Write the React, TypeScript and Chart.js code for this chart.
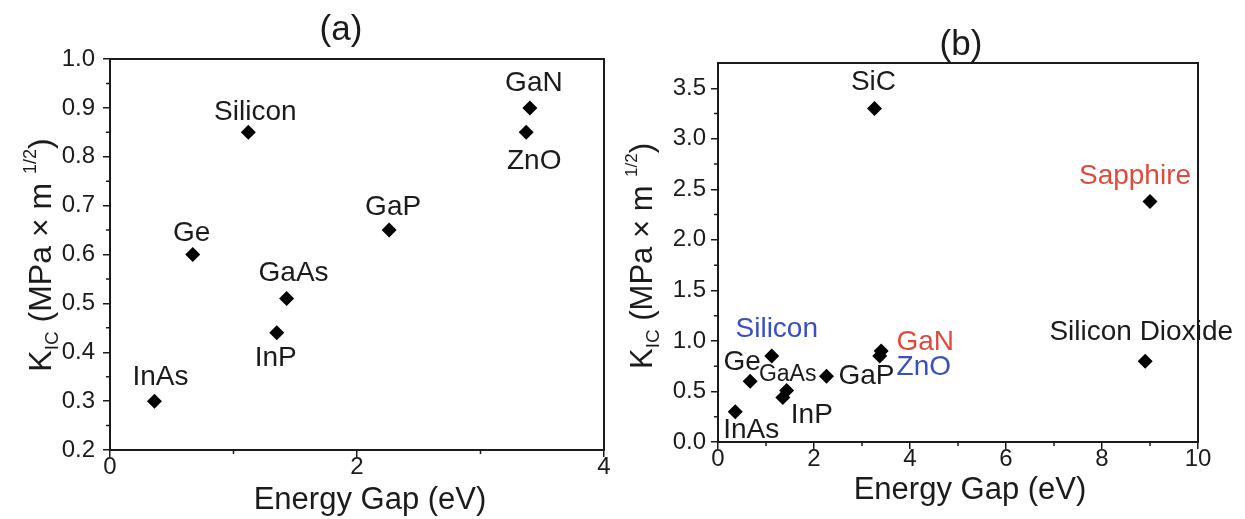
import { useEffect, useRef } from "react";
import { Chart, registerables } from "chart.js";

Chart.register(...registerables);

// ---- Panel (a): common semiconductors ----
const namesA = ["InAs", "Ge", "Silicon", "InP", "GaAs", "GaP", "ZnO", "GaN"];
const gapA = [0.36, 0.67, 1.12, 1.35, 1.43, 2.26, 3.37, 3.4];
const kicA = [0.3, 0.6, 0.85, 0.44, 0.51, 0.65, 0.85, 0.9];

const xTicksA = [0, 2, 4];
const xMinorA = [1, 3];
const yTicksA = [0.2, 0.3, 0.4, 0.5, 0.6, 0.7, 0.8, 0.9, 1.0];
const yMinorA = [0.25, 0.35, 0.45, 0.55, 0.65, 0.75, 0.85, 0.95];

// ---- Panel (b): semiconductors plus wide-gap materials ----
const namesB = ["InAs", "Ge", "Silicon", "InP", "GaAs", "GaP", "SiC", "ZnO", "GaN", "Sapphire", "Silicon Dioxide"];
const gapB = [0.36, 0.67, 1.12, 1.35, 1.43, 2.26, 3.26, 3.37, 3.4, 9.0, 8.9];
const kicB = [0.3, 0.6, 0.85, 0.44, 0.51, 0.65, 3.3, 0.85, 0.9, 2.38, 0.8];

const xTicksB = [0, 2, 4, 6, 8, 10];
const xMinorB = [1, 3, 5, 7, 9];
const yTicksB = [0, 0.5, 1.0, 1.5, 2.0, 2.5, 3.0, 3.5];
const yMinorB = [0.25, 0.75, 1.25, 1.75, 2.25, 2.75, 3.25];

const FAMILY = "'Liberation Sans', Arial, Helvetica, sans-serif";
const INK = "#1b1b1b";
const BLUE = "#3a4fbf";
const RED = "#df4a3c";

type Placement = { dx: number; dy: number; color: string; size: number; align?: CanvasTextAlign };

// where each material name sits relative to its marker
const placeA: Placement[] = [
  { dx: 6, dy: -24, color: INK, size: 28 },
  { dx: -1, dy: -21, color: INK, size: 28 },
  { dx: 7, dy: -20, color: INK, size: 28 },
  { dx: -1, dy: 26, color: INK, size: 28 },
  { dx: 7, dy: -25, color: INK, size: 28 },
  { dx: 4, dy: -23, color: INK, size: 28 },
  { dx: 8, dy: 29, color: INK, size: 28 },
  { dx: 4, dy: -25, color: INK, size: 28 },
];

const placeB: Placement[] = [
  { dx: 16, dy: 19, color: INK, size: 28 },
  { dx: -8, dy: -19, color: INK, size: 28 },
  { dx: 5, dy: -27, color: BLUE, size: 28 },
  { dx: 29, dy: 18, color: INK, size: 28 },
  { dx: 1, dy: -16, color: INK, size: 23 },
  { dx: 12, dy: 0, color: INK, size: 28, align: "left" },
  { dx: -1, dy: -26, color: INK, size: 28 },
  { dx: 44, dy: 11, color: BLUE, size: 28 },
  { dx: 44, dy: -9, color: RED, size: 28 },
  { dx: -15, dy: -25, color: RED, size: 28 },
  { dx: -4, dy: -29, color: INK, size: 28 },
];

interface PanelSpec {
  letter: string;
  names: string[];
  gap: number[];
  kic: number[];
  xRange: [number, number];
  yRange: [number, number];
  xTicks: number[];
  xMinor: number[];
  yTicks: number[];
  yMinor: number[];
  place: Placement[];
  width: number;
  left: number;
  area: { left: number; right: number; top: number; bottom: number };
  yLabelPad: number;
  letterPos: [number, number];
  xTitlePos: [number, number];
  yTitlePos: [number, number];
  yTitleSize: number;
}

const HEIGHT = 519;

function drawYTitle(ctx: CanvasRenderingContext2D, cx: number, cy: number, size: number) {
  const parts = [
    { t: "K", f: `${size}px ${FAMILY}`, dy: 0 },
    { t: "IC", f: `${Math.round(size * 0.6)}px ${FAMILY}`, dy: 7 },
    { t: " (MPa \u00d7 m ", f: `${size}px ${FAMILY}`, dy: 0 },
    { t: "1/2", f: `${Math.round(size * 0.56)}px ${FAMILY}`, dy: -15 },
    { t: ")", f: `${size}px ${FAMILY}`, dy: 0 },
  ];
  ctx.save();
  ctx.translate(cx, cy);
  ctx.rotate(-Math.PI / 2);
  ctx.fillStyle = INK;
  ctx.textBaseline = "alphabetic";
  ctx.textAlign = "left";
  let total = 0;
  const widths = parts.map((p) => {
    ctx.font = p.f;
    const w = ctx.measureText(p.t).width;
    total += w;
    return w;
  });
  let x = -total / 2;
  parts.forEach((p, i) => {
    ctx.font = p.f;
    ctx.fillText(p.t, x, p.dy);
    x += widths[i];
  });
  ctx.restore();
}

function makeDecor(spec: PanelSpec) {
  return {
    id: "panelDecor",
    afterDraw(chart: any) {
      const ctx: CanvasRenderingContext2D = chart.ctx;
      const { left, right, top, bottom } = chart.chartArea;
      const xs = chart.scales.x;
      const ys = chart.scales.y;
      ctx.save();
      // frame: top and right edges
      ctx.strokeStyle = INK;
      ctx.lineWidth = 2;
      ctx.beginPath();
      ctx.moveTo(left - 1, top);
      ctx.lineTo(right, top);
      ctx.lineTo(right, bottom + 1);
      ctx.stroke();
      // minor ticks
      ctx.lineWidth = 1.5;
      ctx.beginPath();
      spec.xMinor.forEach((v) => {
        const px = xs.getPixelForValue(v);
        ctx.moveTo(px, bottom);
        ctx.lineTo(px, bottom + 4);
      });
      spec.yMinor.forEach((v) => {
        const py = ys.getPixelForValue(v);
        ctx.moveTo(left, py);
        ctx.lineTo(left - 4, py);
      });
      ctx.stroke();

      // material names next to markers
      const meta = chart.getDatasetMeta(0);
      ctx.textBaseline = "middle";
      meta.data.forEach((pt: any, i: number) => {
        const p = spec.place[i];
        ctx.font = `${p.size}px ${FAMILY}`;
        ctx.fillStyle = p.color;
        ctx.textAlign = p.align || "center";
        ctx.fillText(spec.names[i], pt.x + p.dx, pt.y + p.dy);
      });

      // panel letter
      ctx.fillStyle = INK;
      ctx.textAlign = "center";
      ctx.textBaseline = "alphabetic";
      ctx.font = `35px ${FAMILY}`;
      ctx.fillText(spec.letter, spec.letterPos[0], spec.letterPos[1]);

      // axis titles
      ctx.font = `31px ${FAMILY}`;
      ctx.fillText("Energy Gap (eV)", spec.xTitlePos[0], spec.xTitlePos[1]);
      drawYTitle(ctx, spec.yTitlePos[0], spec.yTitlePos[1], spec.yTitleSize);
      ctx.restore();
    },
  };
}

function Panel({ spec }: { spec: PanelSpec }) {
  const ref = useRef<HTMLCanvasElement | null>(null);
  useEffect(() => {
    const canvas = ref.current;
    if (!canvas) return;
    const a = spec.area;
    const yDec = spec.yTicks.some((v) => !Number.isInteger(v)) ? 1 : 0;
    const chart = new Chart(canvas, {
      type: "scatter",
      data: {
        datasets: [
          {
            data: spec.gap.map((g, i) => ({ x: g, y: spec.kic[i] })),
            pointStyle: "rectRot",
            pointRadius: 7.5,
            pointBackgroundColor: "#000",
            pointBorderColor: "#000",
            pointBorderWidth: 0,
          },
        ],
      },
      options: {
        responsive: false,
        animation: false,
        events: [],
        layout: { padding: { left: 0, top: a.top, right: spec.width - a.right, bottom: 0 } },
        plugins: { legend: { display: false }, tooltip: { enabled: false }, title: { display: false } },
        scales: {
          x: {
            type: "linear",
            min: spec.xRange[0],
            max: spec.xRange[1],
            afterBuildTicks: (s: any) => {
              s.ticks = spec.xTicks.map((v) => ({ value: v }));
            },
            afterFit: (s: any) => {
              s.height = HEIGHT - a.bottom;
            },
            ticks: {
              color: INK,
              font: { family: FAMILY, size: 24 },
              padding: -4,
              maxRotation: 0,
              callback: (v: any) => String(v),
            },
            grid: { display: true, drawOnChartArea: false, drawTicks: true, tickLength: 7, color: INK, lineWidth: 1.5 },
            border: { display: true, color: INK, width: 2 },
            title: { display: false },
          },
          y: {
            type: "linear",
            min: spec.yRange[0],
            max: spec.yRange[1],
            afterBuildTicks: (s: any) => {
              s.ticks = spec.yTicks.map((v) => ({ value: v }));
            },
            afterFit: (s: any) => {
              s.width = a.left;
            },
            ticks: {
              color: INK,
              font: { family: FAMILY, size: 24 },
              padding: spec.yLabelPad,
              callback: (v: any) => Number(v).toFixed(yDec),
            },
            grid: { display: true, drawOnChartArea: false, drawTicks: true, tickLength: 7, color: INK, lineWidth: 1.5 },
            border: { display: true, color: INK, width: 2 },
            title: { display: false },
          },
        },
      },
      plugins: [makeDecor(spec)],
    } as any);
    return () => chart.destroy();
  }, [spec]);
  return (
    <canvas
      ref={ref}
      width={spec.width}
      height={HEIGHT}
      style={{ position: "absolute", left: spec.left, top: 0, width: spec.width, height: HEIGHT }}
    />
  );
}

const panelA: PanelSpec = {
  letter: "(a)",
  names: namesA,
  gap: gapA,
  kic: kicA,
  xRange: [0, 4],
  yRange: [0.2, 1.0],
  xTicks: xTicksA,
  xMinor: xMinorA,
  yTicks: yTicksA,
  yMinor: yMinorA,
  place: placeA,
  width: 620,
  left: 0,
  area: { left: 110, right: 604, top: 59, bottom: 450 },
  yLabelPad: 8,
  letterPos: [341, 40],
  xTitlePos: [370, 509],
  yTitlePos: [51, 255],
  yTitleSize: 32,
};

const panelB: PanelSpec = {
  letter: "(b)",
  names: namesB,
  gap: gapB,
  kic: kicB,
  xRange: [0, 10],
  yRange: [0, 3.75],
  xTicks: xTicksB,
  xMinor: xMinorB,
  yTicks: yTicksB,
  yMinor: yMinorB,
  place: placeB,
  width: 625,
  left: 620,
  area: { left: 98, right: 578, top: 63, bottom: 442 },
  yLabelPad: 5,
  letterPos: [341, 55],
  xTitlePos: [350, 499],
  yTitlePos: [32, 256],
  yTitleSize: 31,
};

export default function App() {
  return (
    <div style={{ position: "fixed", left: 0, top: 0, width: 1245, height: HEIGHT, background: "#fff", overflow: "hidden" }}>
      <Panel spec={panelA} />
      <Panel spec={panelB} />
    </div>
  );
}
